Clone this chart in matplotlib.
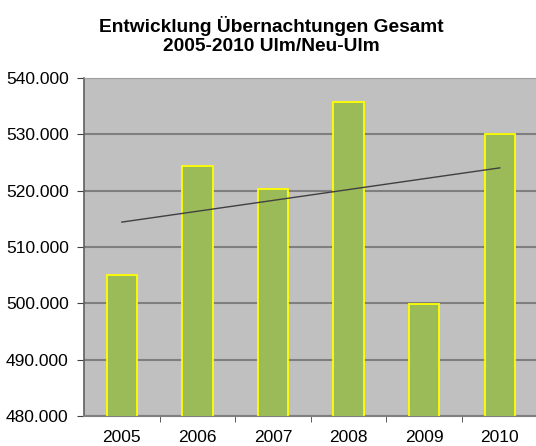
import matplotlib
matplotlib.use("Agg")
import matplotlib.pyplot as plt
import numpy as np
from matplotlib.ticker import FuncFormatter

# Übernachtungen Ulm/Neu-Ulm (in Tausend)
years = ["2005", "2006", "2007", "2008", "2009", "2010"]
values = [505.0, 524.4, 520.3, 535.7, 499.9, 530.1]

plt.rcParams['font.family'] = ['Liberation Sans', 'DejaVu Sans']

fig = plt.figure(figsize=(5.36, 4.46), dpi=100)
ax = fig.add_axes([84/536, 1-416/446, 1-84/536 + 0.003, (416-78)/446])
ax.set_facecolor('#C0C0C0')

x = np.arange(len(years))
ax.bar(x, values, width=0.4, color='#9BBB59', edgecolor='#FFFF00', linewidth=1.3, zorder=3)

# linear trend
k, d = np.polyfit(x, values, 1)
ax.plot([x[0], x[-1]], [k*x[0]+d, k*x[-1]+d], color='#404040', linewidth=1.0, zorder=4)

ax.set_xlim(-0.5, 5.5)
ax.set_ylim(480, 540)
ax.set_yticks(np.arange(480, 541, 10))
ax.yaxis.set_major_formatter(FuncFormatter(lambda v, p: f"{int(v)}.000"))
ax.grid(axis='y', color='#7F7F7F', linewidth=1.5, zorder=1)

ax.set_xticks(x)
ax.set_xticklabels(years)
ax.set_xticks(np.arange(0.5, 5.5, 1), minor=True)
ax.tick_params(axis='x', which='major', length=0, pad=10, labelsize=12.5)
ax.tick_params(axis='x', which='minor', length=4, direction='out', color='#404040')
ax.tick_params(axis='y', length=5, direction='out', color='#404040', labelsize=12.5, pad=6)

ax.spines['left'].set_color('#606060')
ax.spines['left'].set_linewidth(1.2)
ax.spines['bottom'].set_color('#808080')
ax.spines['bottom'].set_linewidth(1.5)
ax.spines['top'].set_color('#A0A0A0')
ax.spines['right'].set_visible(False)

fig.text(271/536, 1-16/446, "Entwicklung Übernachtungen Gesamt\n2005-2010 Ulm/Neu-Ulm",
         ha='center', va='top', fontsize=13.8, fontweight='bold', linespacing=1.15)

fig.savefig("out.png", dpi=100)
